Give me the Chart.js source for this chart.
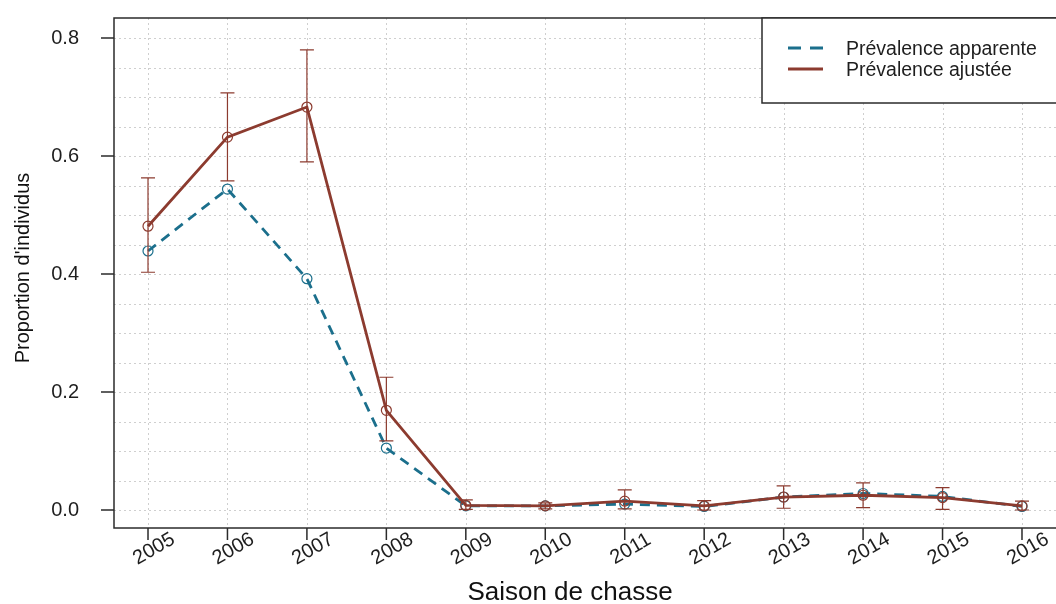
<!DOCTYPE html>
<html>
<head>
<meta charset="utf-8">
<script src="https://cdn.jsdelivr.net/npm/chart.js@4"></script>
<style>
  html, body { margin: 0; padding: 0; background: #fff; }
  canvas { display: block; }
</style>
</head>
<body>
<canvas id="chart" width="1056" height="604"></canvas>
<script>
// Data
const years = [2005, 2006, 2007, 2008, 2009, 2010, 2011, 2012, 2013, 2014, 2015, 2016];
const apparent = [0.439, 0.544, 0.392, 0.105, 0.007, 0.007, 0.010, 0.006, 0.022, 0.028, 0.023, 0.006];
const adjusted = [0.481, 0.632, 0.683, 0.169, 0.008, 0.007, 0.015, 0.007, 0.022, 0.025, 0.021, 0.007];
const adjLower = [0.403, 0.558, 0.590, 0.117, 0.001, 0.002, 0.002, 0.000, 0.003, 0.004, 0.001, 0.000];
const adjUpper = [0.563, 0.707, 0.780, 0.225, 0.017, 0.012, 0.034, 0.016, 0.041, 0.046, 0.038, 0.015];
const yGrid = [0, 0.05, 0.1, 0.15, 0.2, 0.25, 0.3, 0.35, 0.4, 0.45, 0.5, 0.55, 0.6, 0.65, 0.7, 0.75, 0.8];
const yMajor = [0, 0.2, 0.4, 0.6, 0.8];
const seriesLabels = ['Prévalence apparente', 'Prévalence ajustée'];
const xTitle = 'Saison de chasse';
const yTitle = "Proportion d'individus";

const TEAL = '#1b6f8c';
const RED = '#8c3b2f';
const FONT = '"Liberation Sans", Arial, sans-serif';

// Draw grid, frame, error bars, labels and legend around the library's scales
const framePlugin = {
  id: 'frame',
  beforeDatasetsDraw(chart) {
    const ctx = chart.ctx;
    const area = chart.chartArea;
    const xs = chart.scales.x;
    const ys = chart.scales.y;
    ctx.save();
    ctx.strokeStyle = '#cfcfcf';
    ctx.lineWidth = 1;
    ctx.setLineDash([2, 3]);
    years.forEach((yr) => {
      const x = Math.round(xs.getPixelForValue(yr)) + 0.5;
      ctx.beginPath();
      ctx.moveTo(x, area.top);
      ctx.lineTo(x, area.bottom);
      ctx.stroke();
    });
    yGrid.forEach((v) => {
      const y = Math.round(ys.getPixelForValue(v)) + 0.5;
      ctx.beginPath();
      ctx.moveTo(area.left, y);
      ctx.lineTo(area.right, y);
      ctx.stroke();
    });
    ctx.restore();
  },
  afterDatasetsDraw(chart) {
    const ctx = chart.ctx;
    const area = chart.chartArea;
    const xs = chart.scales.x;
    const ys = chart.scales.y;
    ctx.save();

    // error bars on the adjusted series
    ctx.strokeStyle = RED;
    ctx.lineWidth = 1.2;
    years.forEach((yr, i) => {
      const x = xs.getPixelForValue(yr);
      const y1 = ys.getPixelForValue(adjLower[i]);
      const y2 = ys.getPixelForValue(adjUpper[i]);
      ctx.beginPath();
      ctx.moveTo(x, y1);
      ctx.lineTo(x, y2);
      ctx.moveTo(x - 7, y1);
      ctx.lineTo(x + 7, y1);
      ctx.moveTo(x - 7, y2);
      ctx.lineTo(x + 7, y2);
      ctx.stroke();
    });

    // plot box
    ctx.strokeStyle = '#2b2b2b';
    ctx.lineWidth = 1.5;
    ctx.strokeRect(area.left, area.top, area.right - area.left + 2, area.bottom - area.top);

    // tick marks
    ctx.beginPath();
    years.forEach((yr) => {
      const x = xs.getPixelForValue(yr);
      ctx.moveTo(x, area.bottom);
      ctx.lineTo(x, area.bottom + 12);
    });
    yMajor.forEach((v) => {
      const y = ys.getPixelForValue(v);
      ctx.moveTo(area.left - 13, y);
      ctx.lineTo(area.left, y);
    });
    ctx.stroke();

    // rotated year labels
    ctx.fillStyle = '#1e1e1e';
    ctx.font = '20px ' + FONT;
    ctx.textAlign = 'center';
    ctx.textBaseline = 'middle';
    years.forEach((yr) => {
      const x = xs.getPixelForValue(yr);
      ctx.save();
      ctx.translate(x + 6, area.bottom + 21);
      ctx.rotate(-Math.PI / 6);
      ctx.fillText(String(yr), 0, 0);
      ctx.restore();
    });

    // axis titles
    ctx.font = '26px ' + FONT;
    ctx.fillStyle = '#111';
    ctx.fillText(xTitle, 570, 593);
    ctx.save();
    ctx.font = '20px ' + FONT;
    ctx.translate(23, 268);
    ctx.rotate(-Math.PI / 2);
    ctx.fillText(yTitle, 0, 0);
    ctx.restore();

    // legend
    const lx = 762, ly = area.top;
    ctx.fillStyle = '#fff';
    ctx.fillRect(lx, ly, 300, 85);
    ctx.strokeStyle = '#2b2b2b';
    ctx.lineWidth = 1.5;
    ctx.strokeRect(lx, ly, 300, 85);
    const legendColors = [TEAL, RED];
    const legendDash = [[13, 9], []];
    seriesLabels.forEach((lab, i) => {
      const yy = ly + 31 + i * 21;
      ctx.strokeStyle = legendColors[i];
      ctx.lineWidth = 2.8;
      ctx.setLineDash(legendDash[i]);
      ctx.beginPath();
      ctx.moveTo(lx + 26, yy - 1);
      ctx.lineTo(lx + 61, yy - 1);
      ctx.stroke();
      ctx.setLineDash([]);
      ctx.fillStyle = '#1e1e1e';
      ctx.font = '19.5px ' + FONT;
      ctx.textAlign = 'left';
      ctx.fillText(lab, lx + 84, yy + 1);
    });
    ctx.restore();
  }
};

// drop the label padding Chart.js adds around the plot area
function noPad(scale) {
  scale.paddingTop = 0;
  scale.paddingBottom = 0;
  scale.paddingLeft = 0;
  scale.paddingRight = 0;
}

const ctx = document.getElementById('chart').getContext('2d');
new Chart(ctx, {
  type: 'line',
  data: {
    datasets: [
      {
        label: seriesLabels[0],
        data: years.map((yr, i) => ({ x: yr, y: apparent[i] })),
        borderColor: TEAL,
        borderWidth: 2.8,
        borderDash: [10, 7],
        pointStyle: 'circle',
        pointRadius: 5,
        pointBorderWidth: 1.2,
        pointBorderColor: TEAL,
        pointBackgroundColor: 'rgba(0,0,0,0)',
        tension: 0,
        clip: false,
        order: 1
      },
      {
        label: seriesLabels[1],
        data: years.map((yr, i) => ({ x: yr, y: adjusted[i] })),
        borderColor: RED,
        borderWidth: 2.8,
        pointStyle: 'circle',
        pointRadius: 5,
        pointBorderWidth: 1.2,
        pointBorderColor: RED,
        pointBackgroundColor: 'rgba(0,0,0,0)',
        tension: 0,
        clip: false,
        order: 0
      }
    ]
  },
  options: {
    responsive: false,
    animation: false,
    devicePixelRatio: 1,
    layout: { autoPadding: false, padding: { top: 18, right: 0, bottom: 0, left: 0 } },
    plugins: {
      legend: { display: false },
      tooltip: { enabled: false }
    },
    scales: {
      x: {
        type: 'linear',
        min: 2004.572,
        max: 2016.428,
        grid: { display: false },
        border: { display: false },
        ticks: { display: false },
        afterFit(scale) { scale.height = 76; noPad(scale); }
      },
      y: {
        type: 'linear',
        min: -0.0305,
        max: 0.8339,
        grid: { display: false },
        border: { display: false },
        afterBuildTicks(scale) { scale.ticks = yGrid.map((v) => ({ value: v })); },
        afterFit(scale) { scale.width = 114; noPad(scale); },
        ticks: {
          padding: 27,
          color: '#1e1e1e',
          font: { family: FONT, size: 20 },
          callback(value) {
            return yMajor.some((m) => Math.abs(m - value) < 1e-9) ? value.toFixed(1) : '';
          }
        }
      }
    }
  },
  plugins: [framePlugin]
});
</script>
</body>
</html>
